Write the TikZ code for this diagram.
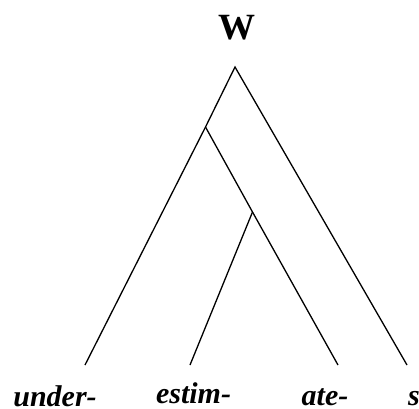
\documentclass[tikz,border=0pt]{standalone}
\usepackage{fontspec}
\setmainfont{Liberation Serif}
\begin{document}
\begin{tikzpicture}[x=1pt,y=-1pt,
  branch/.style={line width=1.3pt},
  leaf/.style={anchor=base,inner sep=0pt,text depth=0pt,font=\fontsize{30}{30}\selectfont\bfseries\itshape},
  rootlab/.style={anchor=base,inner sep=0pt,font=\fontsize{37}{37}\selectfont\bfseries}]
\useasboundingbox (0,0) rectangle (419,408);
\coordinate (top) at (235,67);
\coordinate (n1) at (205.5,127);
\coordinate (n2) at (252.5,212);
\coordinate (eu) at (85,365);
\coordinate (ee) at (190,365);
\coordinate (ea) at (338,365);
\coordinate (es) at (407,365);
\node[rootlab] (W) at (236.5,39) {W};
\node[leaf] (under) at (55,406) {under-};
\node[leaf] (estim) at (193.5,403.5) {estim-};
\node[leaf] (ate) at (325,405) {ate-};
\node[leaf,anchor=base west] (s) at (408,405) {s};
\draw[branch] (eu) -- (n1) -- (top) -- (es);
\draw[branch] (n1) -- (n2) -- (ea);
\draw[branch] (n2) -- (ee);
\end{tikzpicture}
\end{document}
